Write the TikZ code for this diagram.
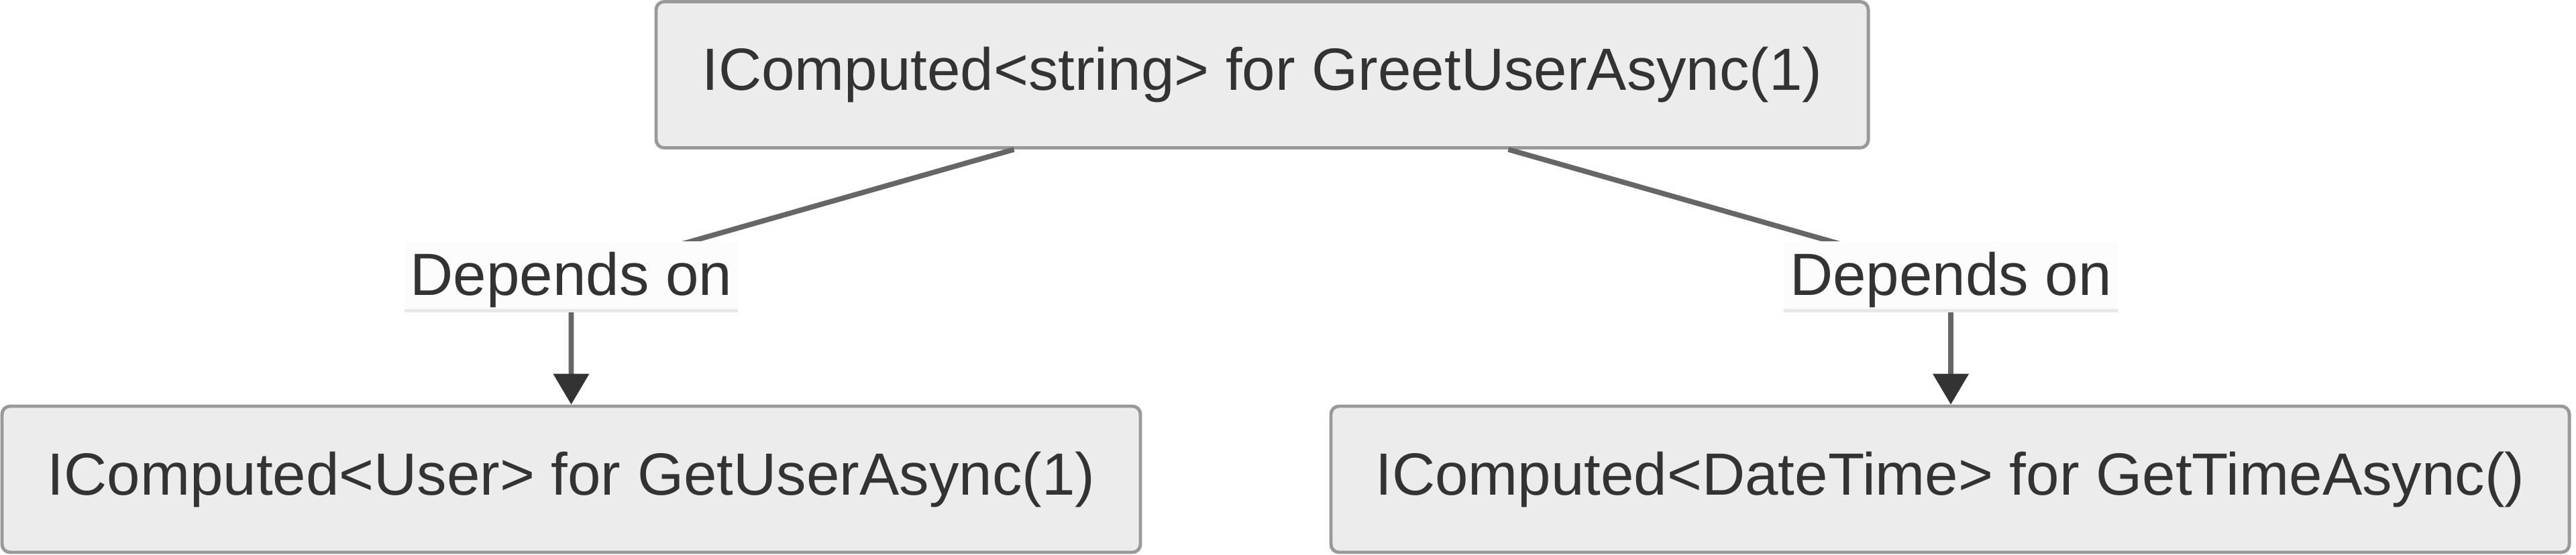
\documentclass[tikz,border=0pt]{standalone}
\usepackage{fontspec}
\setmainfont{Liberation Sans}
\usepackage{tikz}
\usetikzlibrary{arrows.meta}
\definecolor{boxfill}{HTML}{ECECEC}
\definecolor{boxline}{HTML}{999999}
\definecolor{txt}{HTML}{333333}
\definecolor{edgeline}{HTML}{666666}
\definecolor{lblline}{HTML}{E8E8E8}

\begin{document}
\begin{tikzpicture}[
    compbox/.style={draw=boxline, line width=1.4pt, fill=boxfill, rounded corners=0.12cm,
      text=txt, minimum height=2.18cm, inner sep=0pt,
      font=\fontsize{25.3}{30}\selectfont},
    deplabel/.style={fill=white!99!black, text=txt, inner sep=0pt,
      minimum width=4.96cm, minimum height=1.03cm, text depth=0.05cm,
      font=\fontsize{25.3}{30}\selectfont},
    depedge/.style={draw=edgeline, line width=2.2pt,
      -{Triangle[length=0.46cm,width=0.52cm,color=txt]}}]
      \useasboundingbox[fill=white] (0,0) rectangle (38.4,-8.27);
      % Computed nodes
      \node[compbox, minimum width=18.07cm] (greet) at (18.815,-1.115) {IComputed<string> for GreetUserAsync(1)};
      \node[compbox, minimum width=16.97cm] (user) at (8.515,-7.15) {IComputed<User> for GetUserAsync(1)};
      \node[compbox, minimum width=18.46cm] (time) at (29.07,-7.15) {IComputed<DateTime> for GetTimeAsync()};
      %
      % Dependency edges:
      \coordinate (depL) at (8.515,-4.11);
      \coordinate (depR) at (29.08,-4.11);
      \draw[depedge] ([xshift=-3.7cm]greet.south) -- (depL) -- (user.north);
      \draw[depedge] ([xshift=3.67cm]greet.south) -- (depR) -- (depR |- time.north);
      \node[deplabel] (lblL) at (depL) {Depends on};
      \node[deplabel] (lblR) at (depR) {Depends on};
      \draw[lblline, line width=1.4pt] (lblL.south west) -- (lblL.south east);
      \draw[lblline, line width=1.4pt] (lblR.south west) -- (lblR.south east);
      \end{tikzpicture}
\end{document}
